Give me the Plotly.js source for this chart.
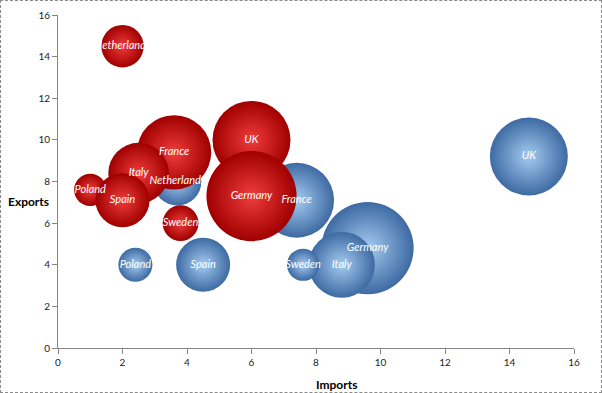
<!DOCTYPE html>
<html>
<head>
<meta charset="utf-8">
<script src="https://cdn.plot.ly/plotly-3.0.1.min.js"></script>
<style>
  html, body { margin: 0; padding: 0; background: #fff; }
  #chart { width: 600px; height: 391px; border: 1px dashed #8a8a8a; }
</style>
</head>
<body>
<div id="chart"></div>
<script>
// Series A (red bubbles)
const redCountries = ["Netherlands", "France", "UK", "Italy", "Poland", "Spain", "Germany", "Sweden"];
const redImports   = [2.0, 3.6, 6.0, 2.5, 1.0, 2.0, 6.0, 3.8];
const redExports   = [14.5, 9.4, 10.0, 8.4, 7.6, 7.1, 7.3, 6.0];
const redSizes     = [4.5, 13.8, 15.2, 9.2, 2.6, 7.3, 20.3, 3.2];

// Series B (blue bubbles)
const blueCountries = ["UK", "France", "Germany", "Italy", "Sweden", "Spain", "Poland", "Netherlands"];
const blueImports   = [14.6, 7.4, 9.6, 8.8, 7.6, 4.5, 2.4, 3.7];
const blueExports   = [9.2, 7.1, 4.8, 4.0, 4.0, 4.0, 4.0, 8.0];
const blueSizes     = [15.2, 14.0, 21.2, 10.9, 2.6, 7.3, 2.9, 5.8];

const tickVals = [0, 2, 4, 6, 8, 10, 12, 14, 16];

const FONT = "Lato, 'Open Sans', sans-serif";
const labelFont = { family: FONT, size: 11, color: "#ffffff", style: "italic" };

function bubbles(name, xs, ys, sizes, edge, centre) {
  return {
    type: "scatter", mode: "markers", name: name,
    x: xs, y: ys,
    marker: {
      size: sizes, sizemode: "area", sizeref: 0.005, opacity: 1,
      color: edge, line: { width: 0 },
      gradient: { type: "radial", color: centre }
    },
    hoverinfo: "skip", cliponaxis: false
  };
}
function labels(name, xs, ys, txt) {
  return {
    type: "scatter", mode: "text", name: name + " labels",
    x: xs, y: ys, text: txt,
    textposition: "middle center", textfont: labelFont,
    hoverinfo: "skip", cliponaxis: false
  };
}

const data = [
  bubbles("Blue", blueImports, blueExports, blueSizes, "#3e6aa3", "#a4cbf0"),
  bubbles("Red", redImports, redExports, redSizes, "#a00000", "#f03c3c"),
  labels("Blue", blueImports, blueExports, blueCountries),
  labels("Red", redImports, redExports, redCountries)
];

const axisCommon = {
  range: [0, 16], tickvals: tickVals, ticktext: tickVals.map(String),
  showgrid: false, zeroline: false, showline: true,
  linecolor: "#868686", linewidth: 1,
  ticks: "outside", ticklen: 5, tickcolor: "#868686",
  tickfont: { family: FONT, size: 10, color: "#222" },
  fixedrange: true
};

const layout = {
  width: 600, height: 391,
  margin: { l: 57, r: 27, t: 14, b: 44 },
  paper_bgcolor: "#ffffff", plot_bgcolor: "#ffffff",
  showlegend: false,
  xaxis: Object.assign({}, axisCommon),
  yaxis: Object.assign({}, axisCommon),
  annotations: [
    { text: "<b>Imports</b>", xref: "paper", yref: "paper", x: 0.54, y: -0.08,
      yanchor: "top", xanchor: "center", showarrow: false,
      font: { family: FONT, size: 12, color: "#000" } },
    { text: "<b>Exports</b>", xref: "paper", yref: "paper", x: -0.058, y: 0.44,
      xanchor: "center", yanchor: "middle", showarrow: false,
      font: { family: FONT, size: 12, color: "#000" } }
  ]
};

Plotly.newPlot("chart", data, layout, { displayModeBar: false, staticPlot: true });
</script>
</body>
</html>
